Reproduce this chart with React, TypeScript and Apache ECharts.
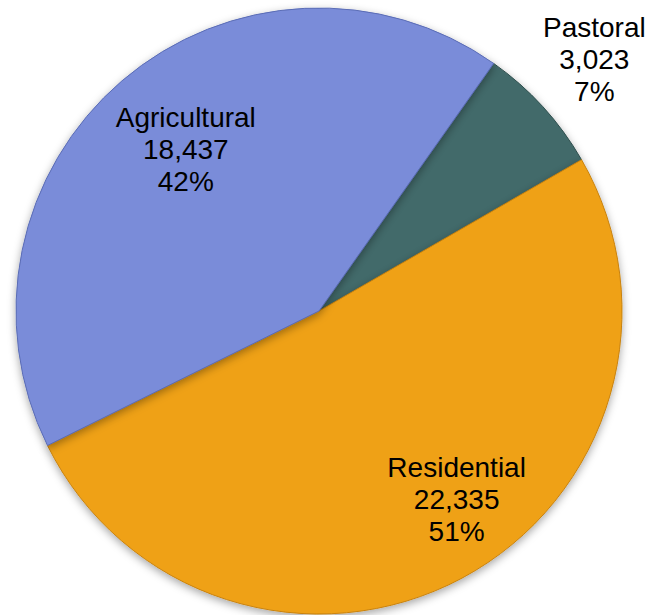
import React, { useEffect, useRef } from "react";
import * as echarts from "echarts";

const categories = ["Pastoral", "Residential", "Agricultural"];
const values = [3023, 22335, 18437];

const colors = ["#436B6A", "#EFA118", "#7A8CD9"];
const borderColors = ["#2F4F4E", "#C9820C", "#5A6CB5"];
const labelRadius = [1.23, 0.77, 0.69];
const labelAngleShift = [0, -8, 1];

export default function App() {
  const ref = useRef<HTMLDivElement>(null);
  useEffect(() => {
    document.body.style.margin = "0";
    const chart = echarts.init(ref.current!, null, { renderer: "svg" });
    const total = values.reduce((a, b) => a + b, 0);
    const startCW = 35.2;
    const cx = 319;
    const cy = 311;
    const r = 303;
    const cum: number[] = [];
    let acc = 0;
    values.forEach((v) => {
      cum.push(acc);
      acc += v;
    });
    chart.setOption({
      animation: false,
      backgroundColor: "#ffffff",
      series: [
        {
          type: "pie",
          center: [cx, cy],
          radius: r,
          startAngle: 90 - startCW,
          clockwise: true,
          avoidLabelOverlap: false,
          data: categories.map((name, i) => ({
            name,
            value: values[i],
            itemStyle: { color: colors[i], borderColor: borderColors[i] },
          })),
          itemStyle: {
            borderWidth: 1,
            shadowBlur: 8,
            shadowOffsetY: 3,
            shadowColor: "rgba(0,0,0,0.35)",
          },
          label: {
            show: true,
            position: "inside",
            formatter: (p: any) =>
              `${p.name}\n${echarts.format.addCommas(p.value)}\n${Math.round(p.percent)}%`,
            fontFamily: "Liberation Sans",
            fontSize: 28,
            lineHeight: 32,
            color: "#000000",
            align: "center",
          },
          labelLine: { show: false },
          labelLayout: (params: any) => {
            const i = params.dataIndex;
            const mid = startCW + ((cum[i] + values[i] / 2) / total) * 360 + labelAngleShift[i];
            const a = (mid * Math.PI) / 180;
            const d = labelRadius[i] * r;
            return {
              x: cx + d * Math.sin(a),
              y: cy - d * Math.cos(a),
              align: "center",
              verticalAlign: "middle",
            };
          },
          emphasis: { disabled: true },
        },
      ],
    });
    return () => chart.dispose();
  }, []);
  return <div ref={ref} style={{ width: 649, height: 615 }} />;
}
